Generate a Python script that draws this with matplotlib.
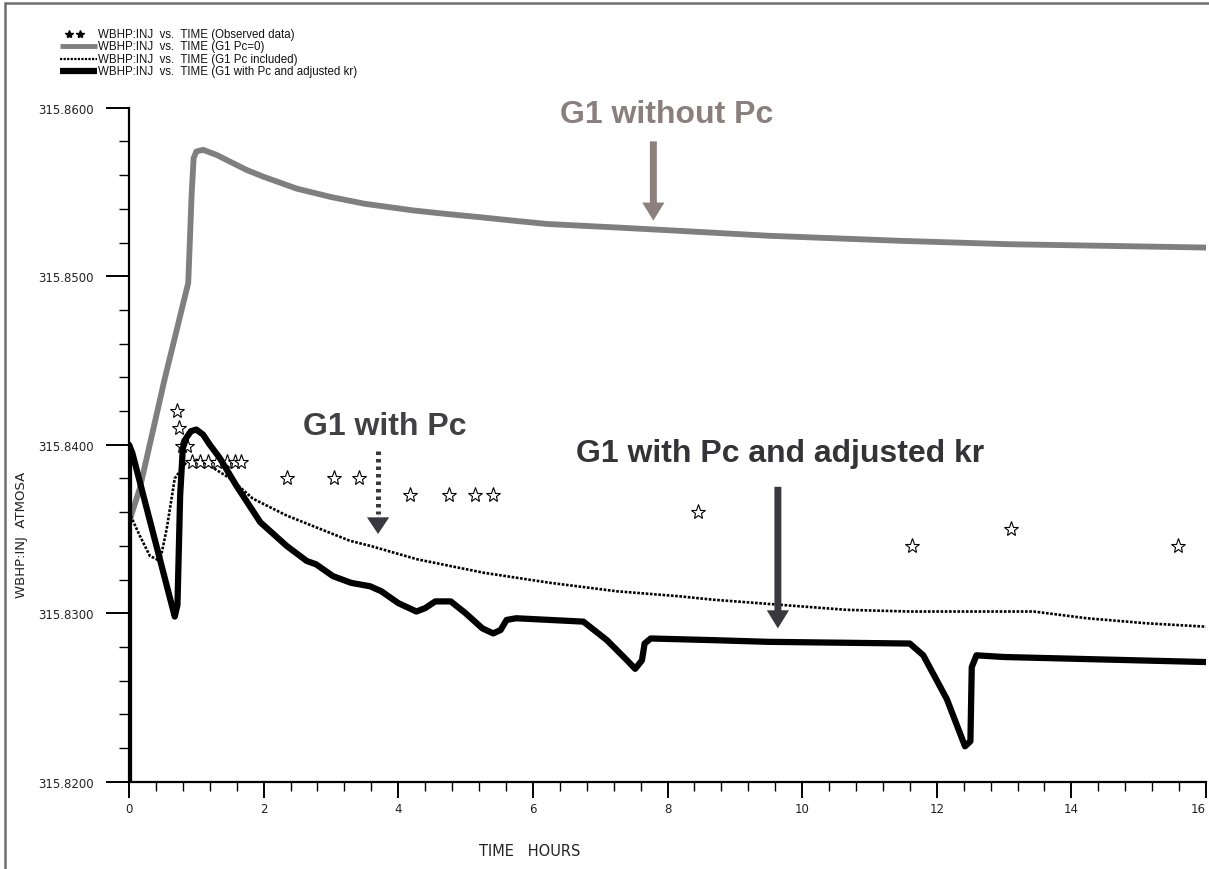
import matplotlib
matplotlib.use("Agg")
import matplotlib.pyplot as plt
from matplotlib.lines import Line2D
from matplotlib.patches import Rectangle
from matplotlib.ticker import MultipleLocator, FormatStrFormatter

# ---------------- data ----------------
obs_t = [0.71, 0.75, 0.78, 0.86, 0.93, 1.05, 1.17, 1.30, 1.45, 1.58, 1.67,
         2.34, 3.05, 3.42, 4.18, 4.76, 5.14, 5.41, 8.45, 11.63, 13.11, 15.58]
obs_v = [315.8420, 315.8410, 315.8399, 315.8399, 315.8390, 315.8390, 315.8390,
         315.8390, 315.8390, 315.8390, 315.8390, 315.8380, 315.8380, 315.8380,
         315.8370, 315.8370, 315.8370, 315.8370, 315.8360, 315.8340, 315.8350,
         315.8340]

pc0_t = [0.0, 0.16, 0.53, 0.88, 0.93, 0.96, 1.00, 1.10, 1.30, 1.50, 1.75, 2.00,
         2.49, 3.00, 3.50, 4.23, 4.70, 5.22, 5.70, 6.21, 6.70, 7.20, 8.14, 9.50,
         11.46, 13.05, 16.0]
pc0_v = [315.8354, 315.8374, 315.8439, 315.8496, 315.8548, 315.8570, 315.8574,
         315.8575, 315.8572, 315.8568, 315.8563, 315.8559, 315.8552, 315.8547,
         315.8543, 315.8539, 315.8537, 315.8535, 315.8533, 315.8531, 315.8530,
         315.8529, 315.8527, 315.8524, 315.8521, 315.8519, 315.8517]

pcinc_t = [0.0, 0.16, 0.31, 0.46, 0.56, 0.68, 0.86, 1.00, 1.10, 1.50, 1.84, 2.34,
           2.84, 3.28, 3.58, 4.28, 5.27, 6.26, 7.25, 8.19, 8.68, 9.67, 10.66,
           11.60, 12.79, 13.44, 14.23, 15.12, 16.0]
pcinc_v = [315.8360, 315.8346, 315.8334, 315.8331, 315.8350, 315.8380, 315.8390,
           315.8391, 315.8390, 315.8380, 315.8368, 315.8358, 315.8350, 315.8343,
           315.8340, 315.8332, 315.8324, 315.8318, 315.8313, 315.8310, 315.8308,
           315.8305, 315.8302, 315.8301, 315.8301, 315.8301, 315.8297, 315.8294,
           315.8292]

adj_t = [0.0, 0.0, 0.05, 0.68, 0.72, 0.76, 0.80, 0.85, 0.92, 1.00, 1.10, 1.20,
         1.35, 1.59, 1.95, 2.34, 2.64, 2.78, 3.03, 3.30, 3.58, 3.75, 4.00, 4.27,
         4.40, 4.55, 4.78, 5.00, 5.25, 5.41, 5.52, 5.61, 5.75, 6.75, 7.10, 7.40,
         7.52, 7.62, 7.66, 7.75, 8.68, 9.50, 11.60, 11.80, 12.15, 12.42, 12.50,
         12.52, 12.59, 13.00, 16.0]
adj_v = [315.8200, 315.8400, 315.8395, 315.8298, 315.8305, 315.8370, 315.8398,
         315.8404, 315.8408, 315.8409, 315.8406, 315.8400, 315.8392, 315.8376,
         315.8354, 315.8340, 315.8331, 315.8329, 315.8322, 315.8318, 315.8316,
         315.8313, 315.8306, 315.8301, 315.8303, 315.8307, 315.8307, 315.8300,
         315.8291, 315.8288, 315.8290, 315.8296, 315.8297, 315.8295, 315.8284,
         315.8272, 315.8267, 315.8272, 315.8282, 315.8285, 315.8284, 315.8283,
         315.8282, 315.8275, 315.8249, 315.8221, 315.8224, 315.8268, 315.8275,
         315.8274, 315.8271]

legend_labels = ["WBHP:INJ  vs.  TIME (Observed data)",
                 "WBHP:INJ  vs.  TIME (G1 Pc=0)",
                 "WBHP:INJ  vs.  TIME (G1 Pc included)",
                 "WBHP:INJ  vs.  TIME (G1 with Pc and adjusted kr)"]

# ---------------- figure ----------------
W, H = 1209, 870
fig = plt.figure(figsize=(W / 100, H / 100), dpi=100)
fig.patch.set_facecolor("white")

# outer frame (top and left visible)
fig.add_artist(Rectangle((5 / W, -0.1), 1.2, 1 - 4 / H + 0.1, transform=fig.transFigure,
                         fill=False, edgecolor="#6e6e6e", linewidth=1.8))

ax = fig.add_axes([129 / W, 1 - 782.7 / H, (1206 - 129) / W, (782.7 - 108.7) / H])
ax.set_xlim(0, 16)
ax.set_ylim(315.82, 315.86)

grey = "#7f7f7f"
dot_style = (0, (1.0, 0.6))

ax.plot(pc0_t, pc0_v, color=grey, lw=4.2, solid_joinstyle="round", zorder=2)
ax.plot(pcinc_t, pcinc_v, color="black", lw=1.9, linestyle=dot_style, zorder=3)
ax.plot(obs_t, obs_v, linestyle="none", marker="*", ms=11, mfc="white",
        mec="black", mew=0.8, zorder=3.5)
ax.plot(adj_t, adj_v, color="black", lw=4.5, solid_joinstyle="round",
        solid_capstyle="butt", zorder=4)

# spines / ticks
for s in ("top", "right"):
    ax.spines[s].set_visible(False)
for s in ("left", "bottom"):
    ax.spines[s].set_linewidth(1.6)
ax.yaxis.set_major_locator(MultipleLocator(0.01))
ax.yaxis.set_minor_locator(MultipleLocator(0.002))
ax.xaxis.set_major_locator(MultipleLocator(2))
ax.xaxis.set_minor_locator(MultipleLocator(0.4))
ax.yaxis.set_major_formatter(FormatStrFormatter("%.4f"))
ax.tick_params(axis="y", which="major", direction="out", length=16.5, width=1.4,
               labelsize=8.5, pad=9, labelcolor="#222222")
ax.tick_params(axis="y", which="minor", direction="out", length=7, width=1.0)
ax.tick_params(axis="x", which="major", direction="out", length=11.5, width=1.4,
               labelsize=8.5, pad=3, labelcolor="#222222")
ax.tick_params(axis="x", which="minor", direction="out", length=6.5, width=1.0)

fig.canvas.draw()
xlabels = ax.get_xticklabels()
for lab in xlabels:
    if lab.get_text() == "16":
        lab.set_horizontalalignment("right")

fig.text(22 / W, 1 - 535 / H, "WBHP:INJ  ATMOSA", rotation=90, ha="center",
         va="center", fontsize=9.5, color="#222222")
fig.text(530 / W, 1 - 852 / H, "TIME   HOURS", ha="center", va="center",
         fontsize=10.5, color="#222222")

# ---------------- annotations ----------------
bold = dict(fontfamily="Liberation Sans", fontweight="bold", fontsize=23,
            ha="center", va="center")
ax.text(7.99, 315.8596, "G1 without Pc", color="#8a7f7c", **bold)
ax.text(3.80, 315.8411, "G1 with Pc", color="#404045", **bold)
ax.text(9.67, 315.8395, "G1 with Pc and adjusted kr", color="#333338", **bold)

ax.annotate("", xy=(7.79, 315.8533), xytext=(7.79, 315.8580),
            arrowprops=dict(arrowstyle="simple,head_length=13,head_width=16,tail_width=5",
                            mutation_scale=1, color="#8c7f7c", lw=0,
                            shrinkA=0, shrinkB=0))
ax.annotate("", xy=(9.64, 315.8291), xytext=(9.64, 315.8375),
            arrowprops=dict(arrowstyle="simple,head_length=13,head_width=16,tail_width=5",
                            mutation_scale=1, color="#38383e", lw=0,
                            shrinkA=0, shrinkB=0))
# dotted arrow: dotted shaft + filled head
ax.plot([3.70, 3.70], [315.8396, 315.8359], color="#38383e", lw=3.6,
        linestyle=(0, (0.7, 0.8)), solid_capstyle="butt", zorder=5)
ax.annotate("", xy=(3.70, 315.8347), xytext=(3.70, 315.8360),
            arrowprops=dict(arrowstyle="simple,head_length=12,head_width=16,tail_width=0.1",
                            mutation_scale=1, color="#38383e", lw=0,
                            shrinkA=0, shrinkB=0))

# ---------------- legend (manual) ----------------
rows_y = [35, 47, 60, 72]
x0, x1, xt = 60, 97, 98
ft = fig.transFigure
for yy, lab in zip(rows_y, legend_labels):
    fig.text(xt / W, 1 - yy / H, lab, fontsize=8.3, fontfamily="Liberation Sans",
             ha="left", va="center", color="#111111")
fig.add_artist(Line2D([69 / W, 80 / W], [1 - 35 / H] * 2, transform=ft, ls="none",
                      marker="*", ms=6, color="black"))
fig.add_artist(Line2D([x0 / W, x1 / W], [1 - 47 / H] * 2, transform=ft,
                      color=grey, lw=3.5, solid_capstyle="butt"))
fig.add_artist(Line2D([x0 / W, x1 / W], [1 - 60 / H] * 2, transform=ft,
                      color="black", lw=1.6, ls=dot_style))
fig.add_artist(Line2D([x0 / W, x1 / W], [1 - 72 / H] * 2, transform=ft,
                      color="black", lw=4.5, solid_capstyle="butt"))

fig.savefig("out.png", dpi=100)
